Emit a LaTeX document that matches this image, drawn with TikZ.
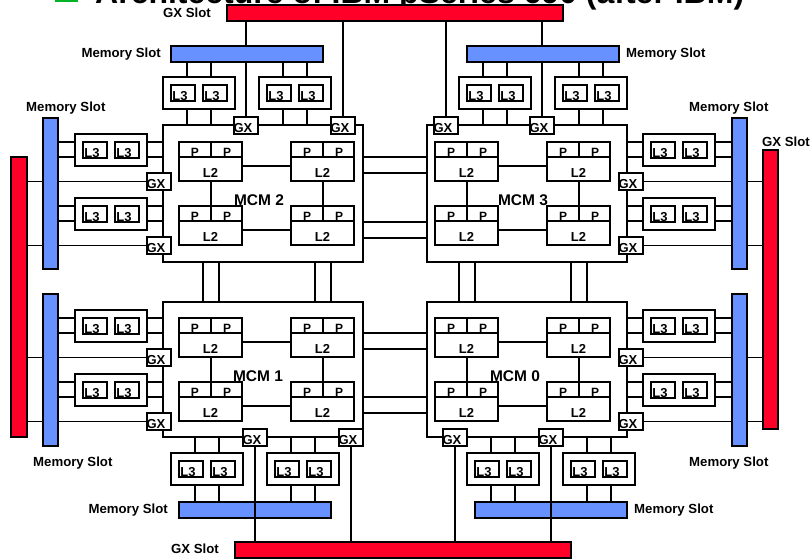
\documentclass[tikz,border=0pt]{standalone}
\usepackage{fontspec}
\setmainfont{Liberation Sans}
\usetikzlibrary{calc,backgrounds}
\definecolor{slotred}{RGB}{255,0,40}
\definecolor{slotblue}{RGB}{102,145,255}
\definecolor{bulletgreen}{RGB}{0,180,40}
\tikzset{
 bx/.style={draw, line width=2pt, fill=white, inner sep=0pt, outer sep=0pt},
 redslot/.style={bx, fill=slotred},
 blueslot/.style={bx, fill=slotblue},
 conn/.style={line width=1.9pt},
 sm/.style={font=\fontsize{13}{13}\selectfont\bfseries, inner sep=0pt, anchor=base},
 psm/.style={font=\fontsize{12}{12}\selectfont\bfseries, inner sep=0pt, anchor=base},
 lbl/.style={font=\fontsize{13.2}{14}\selectfont\bfseries, inner sep=0pt},
 mcmlbl/.style={font=\fontsize{15.5}{16}\selectfont\bfseries, inner sep=0pt, anchor=base},
}
\newcommand\bx[6]{\node[#1, minimum width={(#5)-(#3)}, minimum height={(#6)-(#4)}] (#2) at ({((#3)+(#5))/2},{((#4)+(#6))/2}) {};}
\newcommand\gxbox[3]{\bx{bx}{#1}{#2}{#3}{#2+24}{#3+17}\node[sm] (#1t) at ({#2+9},{#3+15.5}) {GX};}
\newcommand\lthree[3]{\bx{bx}{#1}{#2}{#3}{#2+72}{#3+32}%
 \bx{bx}{#1a}{#2+8}{#3+8}{#2+32}{#3+24}%
 \bx{bx}{#1b}{#2+40}{#3+8}{#2+64}{#3+24}%
 \node[sm] (#1at) at ({#2+17},{#3+23.5}) {L3};%
 \node[sm] (#1bt) at ({#2+49},{#3+23.5}) {L3};}
\newcommand\chip[3]{\bx{bx}{#1}{#2}{#3}{#2+63}{#3+39}%
 \draw[conn] ({#2},{#3+15}) -- ({#2+63},{#3+15});%
 \draw[conn] ({#2+32},{#3}) -- ({#2+32},{#3+15});%
 \node[psm] (#1p1) at ({#2+16},{#3+14.5}) {P};%
 \node[psm] (#1p2) at ({#2+48},{#3+14.5}) {P};%
 \node[sm] (#1l) at ({#2+31.5},{#3+35.5}) {L2};}
\begin{document}
\begin{tikzpicture}[x=1pt,y=-1pt]
\useasboundingbox (0,0) rectangle (812,560);
\clip (0,0) rectangle (812,560);
% title (cut off at the top)
\fill[bulletgreen] (55,-12) rectangle (78,2);
\node[font=\fontsize{32}{34}\selectfont\bfseries, anchor=base west, inner sep=0pt] (title) at (95,3) {Architecture of IBM pSeries 690 (after IBM)};
% slots
\bx{redslot}{gxT}{227}{5}{563}{21}
\bx{redslot}{gxB}{235}{542}{571}{558}
\bx{redslot}{gxL}{11}{157}{27}{437}
\bx{redslot}{gxR}{763}{150}{778}{429}
\bx{blueslot}{memTL}{171}{46}{323}{62}
\bx{blueslot}{memTR}{467}{46}{619}{62}
\bx{blueslot}{memBL}{179}{502}{331}{518}
\bx{blueslot}{memBR}{475}{502}{627}{518}
\bx{blueslot}{memL2}{43}{118}{58}{269}
\bx{blueslot}{memL1}{43}{294}{58}{446}
\bx{blueslot}{memR3}{732}{118}{747}{269}
\bx{blueslot}{memR0}{732}{294}{747}{446}
% MCMs
\bx{bx}{m2}{163}{125}{363}{262}
\bx{bx}{m3}{427}{125}{627}{262}
\bx{bx}{m1}{163}{302}{363}{437}
\bx{bx}{m0}{427}{302}{627}{437}
% chips
\chip{c2a}{179}{142}\chip{c2b}{291}{142}\chip{c2c}{179}{206}\chip{c2d}{291}{206}
\chip{c3a}{435}{142}\chip{c3b}{547}{142}\chip{c3c}{435}{206}\chip{c3d}{547}{206}
\chip{c1a}{179}{318}\chip{c1b}{291}{318}\chip{c1c}{179}{382}\chip{c1d}{291}{382}
\chip{c0a}{435}{318}\chip{c0b}{547}{318}\chip{c0c}{435}{382}\chip{c0d}{547}{382}
\foreach \m in {2,3,1,0}{
 \draw[conn] ([yshift=-4.5pt]c\m a.east) -- ([yshift=-4.5pt]c\m b.west);
 \draw[conn] ([yshift=-4.5pt]c\m c.east) -- ([yshift=-4.5pt]c\m d.west);
 \draw[conn] ([xshift=0.5pt]c\m a.south) -- ([xshift=0.5pt]c\m c.north);
 \draw[conn] ([xshift=0.5pt]c\m b.south) -- ([xshift=0.5pt]c\m d.north);
}
% GX boxes
\gxbox{g2a}{234}{117}\gxbox{g2b}{331}{117}\gxbox{g2c}{147}{173}\gxbox{g2d}{147}{237}
\gxbox{g3a}{434}{117}\gxbox{g3b}{530}{117}\gxbox{g3c}{619}{173}\gxbox{g3d}{619}{237}
\gxbox{g1a}{243}{429}\gxbox{g1b}{339}{429}\gxbox{g1c}{147}{349}\gxbox{g1d}{147}{413}
\gxbox{g0a}{443}{429}\gxbox{g0b}{539}{429}\gxbox{g0c}{619}{349}\gxbox{g0d}{619}{413}
% L3 groups
\lthree{tA}{163}{77}\lthree{tB}{259}{77}\lthree{tC}{459}{77}\lthree{tD}{555}{77}
\lthree{sA}{75}{134}\lthree{sB}{75}{198}\lthree{sC}{643}{134}\lthree{sD}{643}{198}
\lthree{sE}{75}{310}\lthree{sF}{75}{374}\lthree{sG}{643}{310}\lthree{sH}{643}{374}
\lthree{bA}{171}{453}\lthree{bB}{267}{453}\lthree{bC}{467}{453}\lthree{bD}{563}{453}
% MCM labels
\node[mcmlbl] (l2) at (259,205) {MCM 2};
\node[mcmlbl] (l3) at (523,205) {MCM 3};
\node[mcmlbl] (l1) at (258,381) {MCM 1};
\node[mcmlbl] (l0) at (515,381) {MCM 0};
% slot labels
\node[lbl, anchor=base east] (lbGT) at (211,17.5) {GX Slot};
\node[lbl, anchor=base east] (lbMTL) at (161,57) {Memory Slot};
\node[lbl, anchor=base west] (lbMTR) at (626,57) {Memory Slot};
\node[lbl, anchor=base west] (lbML2) at (26,111.5) {Memory Slot};
\node[lbl, anchor=base west] (lbMR3) at (689,111.5) {Memory Slot};
\node[lbl, anchor=base west] (lbGR) at (762,146) {GX Slot};
\node[lbl, anchor=base west] (lbML1) at (33,466) {Memory Slot};
\node[lbl, anchor=base west] (lbMR0) at (689,466) {Memory Slot};
\node[lbl, anchor=base east] (lbMBL) at (168,513) {Memory Slot};
\node[lbl, anchor=base west] (lbMBR) at (634,513) {Memory Slot};
\node[lbl, anchor=base east] (lbGB) at (219,553) {GX Slot};
% bottom GX lines (drawn over the memory slots)
\foreach \g in {g1a,g1b,g0a,g0b}{\draw[conn] (\g.south) -- (gxB.north -| \g.south);}
\begin{pgfonlayer}{background}
 % top GX lines
 \foreach \g in {g2a,g2b,g3a,g3b}{\draw[conn] (gxT.south -| \g.north) -- (\g.north);}
 % side GX lines
 \foreach \g in {g2c,g2d,g1c,g1d}{\draw[conn] (gxL.east |- \g.west) -- (\g.west);}
 \foreach \g in {g3c,g3d,g0c,g0d}{\draw[conn] (\g.east) -- (gxR.west |- \g.east);}
 % top L3 groups
 \foreach \g/\s/\m in {tA/memTL/m2,tB/memTL/m2,tC/memTR/m3,tD/memTR/m3}{
  \foreach \d in {-12,12}{
   \coordinate (p) at ([xshift=\d pt]\g.north);
   \coordinate (q) at ([xshift=\d pt]\g.south);
   \draw[conn] (\s.south -| p) -- (p);
   \draw[conn] (q) -- (\m.north -| q);
  }}
 % bottom L3 groups
 \foreach \g/\s/\m in {bA/memBL/m1,bB/memBL/m1,bC/memBR/m0,bD/memBR/m0}{
  \foreach \d in {-12,12}{
   \coordinate (p) at ([xshift=\d pt]\g.north);
   \coordinate (q) at ([xshift=\d pt]\g.south);
   \draw[conn] (\m.south -| p) -- (p);
   \draw[conn] (q) -- (\s.north -| q);
  }}
 % left L3 groups
 \foreach \g/\s/\m in {sA/memL2/m2,sB/memL2/m2,sE/memL1/m1,sF/memL1/m1}{
  \foreach \d in {8,-7}{
   \coordinate (p) at ([yshift=\d pt]\g.west);
   \coordinate (q) at ([yshift=\d pt]\g.east);
   \draw[conn] (\s.east |- p) -- (p);
   \draw[conn] (q) -- (\m.west |- q);
  }}
 % right L3 groups
 \foreach \g/\s/\m in {sC/memR3/m3,sD/memR3/m3,sG/memR0/m0,sH/memR0/m0}{
  \foreach \d in {8,-7}{
   \coordinate (p) at ([yshift=\d pt]\g.west);
   \coordinate (q) at ([yshift=\d pt]\g.east);
   \draw[conn] (\m.east |- p) -- (p);
   \draw[conn] (q) -- (\s.west |- q);
  }}
 % MCM to MCM links
 \foreach \y in {157,173,222,238}{\coordinate (p) at (0,\y); \draw[conn] (m2.east |- p) -- (m3.west |- p);}
 \foreach \y in {333,349,397,413}{\coordinate (p) at (0,\y); \draw[conn] (m1.east |- p) -- (m0.west |- p);}
 \foreach \x in {203,219,315,331}{\coordinate (p) at (\x,0); \draw[conn] (m2.south -| p) -- (m1.north -| p);}
 \foreach \x in {459,475,571,587}{\coordinate (p) at (\x,0); \draw[conn] (m3.south -| p) -- (m0.north -| p);}
\end{pgfonlayer}
\end{tikzpicture}
\end{document}
